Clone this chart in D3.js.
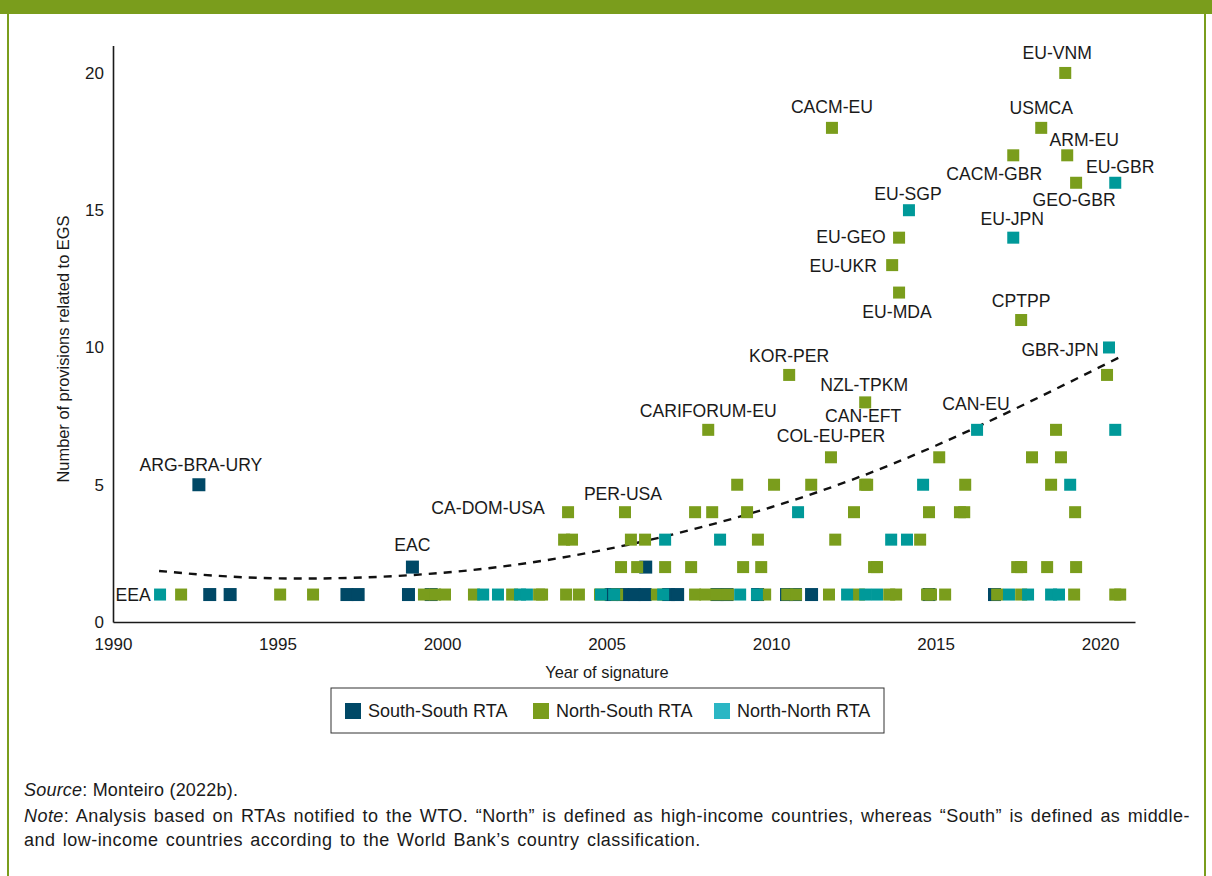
<!DOCTYPE html>
<html>
<head>
<meta charset="utf-8">
<script src="https://cdn.jsdelivr.net/npm/d3@7"></script>
<style>
  html, body { margin: 0; padding: 0; background: #fff; }
  svg { display: block; font-family: "Liberation Sans", Arial, Helvetica, sans-serif; }
</style>
</head>
<body>
<svg id="chart" width="1212" height="876"></svg>
<script>
// Regional trade agreements: [year of signature, number of EGS provisions, label]
const southSouth = [
  [1992.61, 5, "ARG-BRA-URY"],
  [1992.94, 1], [1993.56, 1], [1997.11, 1], [1997.45, 1], [1998.98, 1],
  [1999.10, 2, "EAC"], [1999.67, 1],
  [2005.14, 1], [2005.50, 1], [2005.84, 1], [2006.17, 1], [2006.19, 2],
  [2006.88, 1], [2007.16, 1], [2008.36, 1], [2008.66, 1], [2009.59, 1],
  [2010.47, 1], [2010.74, 1], [2011.23, 1], [2014.80, 1], [2016.79, 1]
];

const northSouth = [
  [1992.07, 1], [1995.08, 1], [1996.08, 1], [1999.45, 1], [1999.79, 1],
  [2000.09, 1], [2000.97, 1], [2002.13, 1], [2002.95, 1], [2003.04, 1],
  [2003.77, 1], [2004.16, 1], [2004.80, 1], [2005.32, 1], [2006.53, 1],
  [2007.69, 1], [2008.00, 1], [2008.33, 1], [2008.69, 1], [2009.82, 1],
  [2010.49, 1], [2010.76, 1], [2011.76, 1], [2012.67, 1], [2013.59, 1],
  [2013.80, 1], [2014.74, 1], [2014.86, 1], [2015.29, 1], [2016.87, 1],
  [2017.60, 1], [2019.21, 1], [2020.46, 1], [2020.61, 1],
  [2005.44, 2], [2005.93, 2], [2006.78, 2], [2007.57, 2], [2009.15, 2],
  [2009.70, 2], [2013.13, 2], [2013.22, 2], [2017.48, 2], [2017.60, 2],
  [2018.39, 2], [2019.27, 2],
  [2003.71, 3], [2003.95, 3], [2005.74, 3], [2006.17, 3], [2009.60, 3],
  [2011.95, 3], [2014.53, 3],
  [2003.83, 4, "CA-DOM-USA"], [2005.56, 4, "PER-USA"], [2007.69, 4],
  [2008.21, 4], [2009.27, 4], [2012.52, 4], [2014.80, 4], [2015.74, 4],
  [2015.87, 4], [2019.24, 4],
  [2008.97, 5], [2010.09, 5], [2011.22, 5], [2012.86, 5, "CAN-EFT"],
  [2012.92, 5], [2015.90, 5], [2018.51, 5],
  [2011.82, 6, "COL-EU-PER"], [2015.11, 6], [2017.93, 6], [2018.81, 6],
  [2008.09, 7, "CARIFORUM-EU"], [2018.66, 7],
  [2012.86, 8, "NZL-TPKM"],
  [2010.55, 9, "KOR-PER"], [2020.21, 9],
  [2017.60, 11, "CPTPP"],
  [2013.89, 12, "EU-MDA"],
  [2013.68, 13, "EU-UKR"],
  [2013.89, 14, "EU-GEO"],
  [2019.27, 16, "GEO-GBR"],
  [2017.36, 17, "CACM-GBR"], [2019.00, 17, "ARM-EU"],
  [2011.85, 18, "CACM-EU"], [2018.21, 18, "USMCA"],
  [2018.94, 20, "EU-VNM"]
];

const northNorth = [
  [1991.43, 1, "EEA"], [2001.25, 1], [2001.70, 1], [2002.37, 1], [2002.58, 1],
  [2004.83, 1], [2005.23, 1], [2006.72, 1], [2009.06, 1], [2009.57, 1],
  [2012.31, 1], [2012.86, 1], [2013.22, 1], [2017.23, 1], [2017.81, 1],
  [2018.51, 1], [2018.75, 1],
  [2006.78, 3], [2008.45, 3], [2013.65, 3], [2014.13, 3],
  [2010.82, 4],
  [2014.62, 5], [2019.09, 5],
  [2016.26, 7, "CAN-EU"], [2020.46, 7],
  [2020.27, 10, "GBR-JPN"],
  [2017.36, 14, "EU-JPN"],
  [2014.19, 15, "EU-SGP"],
  [2020.46, 16, "EU-GBR"]
];

// Fitted trend of provisions over time
const trendYears  = [1991.4, 1995, 2000, 2005, 2010, 2015, 2020.6];
const trendValues = [1.86, 1.59, 1.79, 2.65, 4.18, 6.42, 9.65];

const xTicks = [1990, 1995, 2000, 2005, 2010, 2015, 2020];
const yTicks = [0, 5, 10, 15, 20];
const seriesNames = ["South-South RTA", "North-South RTA", "North-North RTA"];

// Label placement (pixel offset of the label centre from its marker)
const labelOffsets = {
  "ARG-BRA-URY": [2, -20], "EAC": [0, -22], "EEA": [-27, 0],
  "CA-DOM-USA": [-80, -5], "PER-USA": [-2, -19], "CARIFORUM-EU": [0, -19],
  "KOR-PER": [0, -19], "NZL-TPKM": [-1, -18], "CAN-EFT": [-2, -69],
  "COL-EU-PER": [0, -22], "CAN-EU": [-1, -26], "CACM-EU": [0, -21],
  "EU-SGP": [-1, -17], "EU-GEO": [-48, -1], "EU-UKR": [-49, 1],
  "EU-MDA": [-2, 19], "EU-VNM": [-8, -20], "USMCA": [0, -20],
  "CACM-GBR": [-19, 18], "ARM-EU": [17, -16], "EU-GBR": [5, -16],
  "GEO-GBR": [-2, 17], "EU-JPN": [-1, -19], "CPTPP": [0, -19],
  "GBR-JPN": [-49, 2]
};

const markColors  = ["#004866", "#7a9d1c", "#009999"];
const swatchColors = ["#004866", "#7a9d1c", "#2bb6c4"];
const markSizes = [13, 12, 12];

const svg = d3.select("#chart");

// Frame: green header band and side rules
const frameGreen = "#7a9d1c";
svg.append("rect").attr("x", 0).attr("y", 0).attr("width", 1212).attr("height", 14).attr("fill", frameGreen);
svg.append("rect").attr("x", 7).attr("y", 0).attr("width", 2).attr("height", 876).attr("fill", frameGreen);
svg.append("rect").attr("x", 1204).attr("y", 0).attr("width", 2).attr("height", 876).attr("fill", frameGreen);

const x = d3.scaleLinear().domain([1990, 2021.06]).range([113, 1135]);
const y = d3.scaleLinear().domain([0, 21]).range([622, 45.5]);

// Axes
const xAxis = svg.append("g")
  .attr("transform", `translate(0,${y(0)})`)
  .call(d3.axisBottom(x).tickValues(xTicks).tickFormat(d3.format("d")).tickSize(0).tickPadding(16));
const yAxis = svg.append("g")
  .attr("transform", `translate(${x(1990)},0)`)
  .call(d3.axisLeft(y).tickValues(yTicks).tickSize(0).tickPadding(9));

[xAxis, yAxis].forEach(g => {
  g.select(".domain").attr("stroke", "#1a1a1a").attr("stroke-width", 1.6);
  g.selectAll("text").attr("font-family", "Liberation Sans, Arial, sans-serif")
    .attr("font-size", 17).attr("fill", "#1a1a1a");
});

svg.append("text")
  .attr("x", 607).attr("y", 678)
  .attr("text-anchor", "middle").attr("font-size", 16.4).attr("fill", "#1a1a1a")
  .text("Year of signature");
svg.append("text")
  .attr("transform", "translate(69,349) rotate(-90)")
  .attr("text-anchor", "middle").attr("font-size", 16.4).attr("fill", "#1a1a1a")
  .text("Number of provisions related to EGS");

// Trend line
const trendLine = d3.line()
  .x(d => x(d[0])).y(d => y(d[1]))
  .curve(d3.curveNatural);
svg.append("path")
  .datum(trendYears.map((yr, i) => [yr, trendValues[i]]))
  .attr("d", trendLine)
  .attr("fill", "none").attr("stroke", "#111")
  .attr("stroke-width", 2.4).attr("stroke-dasharray", "8,7");

// Markers, one layer per agreement type
const allSeries = [southSouth, northSouth, northNorth];
allSeries.forEach((data, i) => {
  const s = markSizes[i];
  svg.append("g").selectAll("rect")
    .data(data).join("rect")
    .attr("x", d => x(d[0]) - s / 2)
    .attr("y", d => y(d[1]) - s / 2)
    .attr("width", s).attr("height", s)
    .attr("fill", markColors[i]);
});

// Agreement labels
const labelled = allSeries.flat().filter(d => d[2]);
svg.append("g").selectAll("text")
  .data(labelled).join("text")
  .attr("x", d => x(d[0]) + labelOffsets[d[2]][0])
  .attr("y", d => y(d[1]) + labelOffsets[d[2]][1])
  .attr("dy", "0.36em")
  .attr("text-anchor", "middle")
  .attr("font-size", 17.6).attr("fill", "#1a1a1a")
  .text(d => d[2]);

// Legend
const legend = svg.append("g");
legend.append("rect")
  .attr("x", 331).attr("y", 688).attr("width", 553).attr("height", 45)
  .attr("fill", "#fff").attr("stroke", "#333").attr("stroke-width", 1);
const legendX = [345, 533, 714];
seriesNames.forEach((name, i) => {
  legend.append("rect")
    .attr("x", legendX[i]).attr("y", 703).attr("width", 16).attr("height", 16)
    .attr("fill", swatchColors[i]);
  legend.append("text")
    .attr("x", legendX[i] + 23).attr("y", 711).attr("dy", "0.36em")
    .attr("font-size", 18).attr("fill", "#1a1a1a")
    .text(name);
});

// Source and notes
const notes = svg.append("g").attr("font-size", 18).attr("fill", "#1a1a1a")
  .attr("letter-spacing", 0.45).attr("word-spacing", 2);
const src = notes.append("text").attr("x", 24).attr("y", 796).attr("letter-spacing", 0.2).attr("word-spacing", 0);
src.append("tspan").attr("font-style", "italic").text("Source");
src.append("tspan").text(": Monteiro (2022b).");
const note1 = notes.append("text").attr("x", 24).attr("y", 822);
note1.append("tspan").attr("font-style", "italic").text("Note");
note1.append("tspan").text(": Analysis based on RTAs notified to the WTO. \u201CNorth\u201D is defined as high-income countries, whereas \u201CSouth\u201D is defined as middle-");
notes.append("text").attr("x", 24).attr("y", 846)
  .text("and low-income countries according to the World Bank\u2019s country classification.");
</script>
</body>
</html>
